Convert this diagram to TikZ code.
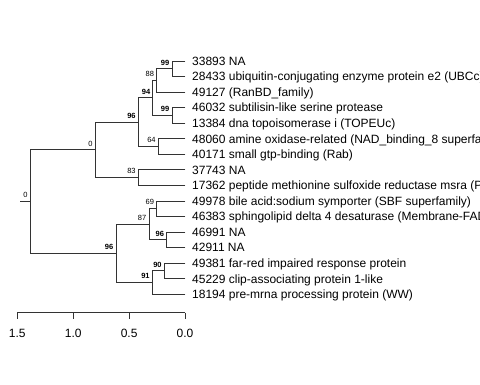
\documentclass[tikz,border=0pt]{standalone}
\usepackage{fontspec}
\setmainfont{Liberation Sans}
\begin{document}
\begin{tikzpicture}[x=1pt,y=-1pt,
  edge/.style={draw=black!80,line width=0.9pt,line cap=rect},
  leaf/.style={anchor=base west,inner sep=0pt,font=\fontsize{12}{12}\selectfont},
  bs/.style={anchor=south east,inner sep=0.5pt,font=\fontsize{7.5}{7.5}\selectfont},
  bsb/.style={bs,font=\fontsize{7.5}{7.5}\selectfont\bfseries},
  ticklab/.style={anchor=base,inner sep=0pt,font=\fontsize{12}{12}\selectfont}]
\useasboundingbox (0,0) rectangle (480,384);
\clip (0,0) rectangle (480,384);
% leaf tips
\foreach \i/\y in {1/61.0,2/76.55,3/92.1,4/107.65,5/123.2,6/138.75,7/154.3,8/169.85,9/185.4,10/200.95,11/216.5,12/232.05,13/247.6,14/263.15,15/278.7,16/294.25}{
  \coordinate (t\i) at (185,\y);
}
% internal nodes
\coordinate (root) at (30.7,201.68);
\coordinate (rs) at (20.7,201.68);
\coordinate (n0) at (95.3,149.93);
\coordinate (n96a) at (138.3,122.23);
\coordinate (n94) at (152.9,97.93);
\coordinate (n88) at (156.7,80.44);
\coordinate (n99a) at (172,68.78);
\coordinate (n99b) at (172,115.43);
\coordinate (n64) at (158.3,146.53);
\coordinate (n83) at (138.3,177.63);
\coordinate (n96b) at (116,253.43);
\coordinate (n87) at (149,224.28);
\coordinate (n69) at (156.7,208.73);
\coordinate (n96c) at (166.7,239.83);
\coordinate (n91) at (152.3,282.59);
\coordinate (n90) at (164.3,270.93);
% edges
\draw[edge] (rs) -- (root);
\draw[edge] (root) |- (n0); \draw[edge] (root) |- (n96b);
\draw[edge] (n0) |- (n96a); \draw[edge] (n0) |- (n83);
\draw[edge] (n96a) |- (n94); \draw[edge] (n96a) |- (n64);
\draw[edge] (n94) |- (n88); \draw[edge] (n94) |- (n99b);
\draw[edge] (n88) |- (n99a); \draw[edge] (n88) |- (t3);
\draw[edge] (n99a) |- (t1); \draw[edge] (n99a) |- (t2);
\draw[edge] (n99b) |- (t4); \draw[edge] (n99b) |- (t5);
\draw[edge] (n64) |- (t6); \draw[edge] (n64) |- (t7);
\draw[edge] (n83) |- (t8); \draw[edge] (n83) |- (t9);
\draw[edge] (n96b) |- (n87); \draw[edge] (n96b) |- (n91);
\draw[edge] (n87) |- (n69); \draw[edge] (n87) |- (n96c);
\draw[edge] (n69) |- (t10); \draw[edge] (n69) |- (t11);
\draw[edge] (n96c) |- (t12); \draw[edge] (n96c) |- (t13);
\draw[edge] (n91) |- (n90); \draw[edge] (n91) |- (t16);
\draw[edge] (n90) |- (t14); \draw[edge] (n90) |- (t15);
% bootstrap labels
\node[bs]  (b-root) at ([shift={(-2.5,-3)}]root) {0};
\node[bs]  (b-n0)   at ([shift={(-2,-3)}]n0) {0};
\node[bsb] (b-n96a) at ([shift={(-2,-3)}]n96a) {96};
\node[bsb] (b-n94)  at ([shift={(-2,-3)}]n94) {94};
\node[bs]  (b-n88)  at ([shift={(-2,-3)}]n88) {88};
\node[bsb] (b-n99a) at ([shift={(-2,-3)}]n99a) {99};
\node[bsb] (b-n99b) at ([shift={(-2,-3)}]n99b) {99};
\node[bs]  (b-n64)  at ([shift={(-2,-3)}]n64) {64};
\node[bs]  (b-n83)  at ([shift={(-2,-3)}]n83) {83};
\node[bsb] (b-n96b) at ([shift={(-2,-3)}]n96b) {96};
\node[bs]  (b-n87)  at ([shift={(-2,-3)}]n87) {87};
\node[bs]  (b-n69)  at ([shift={(-2,-3)}]n69) {69};
\node[bsb] (b-n96c) at ([shift={(-2,-3)}]n96c) {96};
\node[bsb] (b-n91)  at ([shift={(-2,-3)}]n91) {91};
\node[bsb] (b-n90)  at ([shift={(-2,-3)}]n90) {90};
% leaf labels
\foreach \i/\txt in {1/{33893 NA},2/{28433 ubiquitin-conjugating enzyme protein e2 (UBCc)},3/{49127 (RanBD\_family)},4/{46032 subtilisin-like serine protease},5/{13384 dna topoisomerase i (TOPEUc)},6/{48060 amine oxidase-related (NAD\_binding\_8 superfamily)},7/{40171 small gtp-binding (Rab)},8/{37743 NA},9/{17362 peptide methionine sulfoxide reductase msra (PMSR)},10/{49978 bile acid:sodium symporter (SBF superfamily)},11/{46383 sphingolipid delta 4 desaturase (Membrane-FADS-like)},12/{46991 NA},13/{42911 NA},14/{49381 far-red impaired response protein},15/{45229 clip-associating protein 1-like},16/{18194 pre-mrna processing protein (WW)}}{
  \node[leaf] (l\i) at ([shift={(7,4.3)}]t\i) {\txt};
}
% scale axis
\coordinate (a15) at (17.3,312.7);
\coordinate (a10) at (73.2,312.7);
\coordinate (a05) at (129.1,312.7);
\coordinate (a00) at (185,312.7);
\draw[edge,line cap=butt] (a15) -- (a00);
\foreach \c/\v in {a15/1.5,a10/1.0,a05/0.5,a00/0.0}{
  \draw[edge,line cap=butt] (\c) -- ++(0,6);
  \node[ticklab] (lab\c) at ([shift={(0,24.6)}]\c) {\v};
}
\end{tikzpicture}
\end{document}
